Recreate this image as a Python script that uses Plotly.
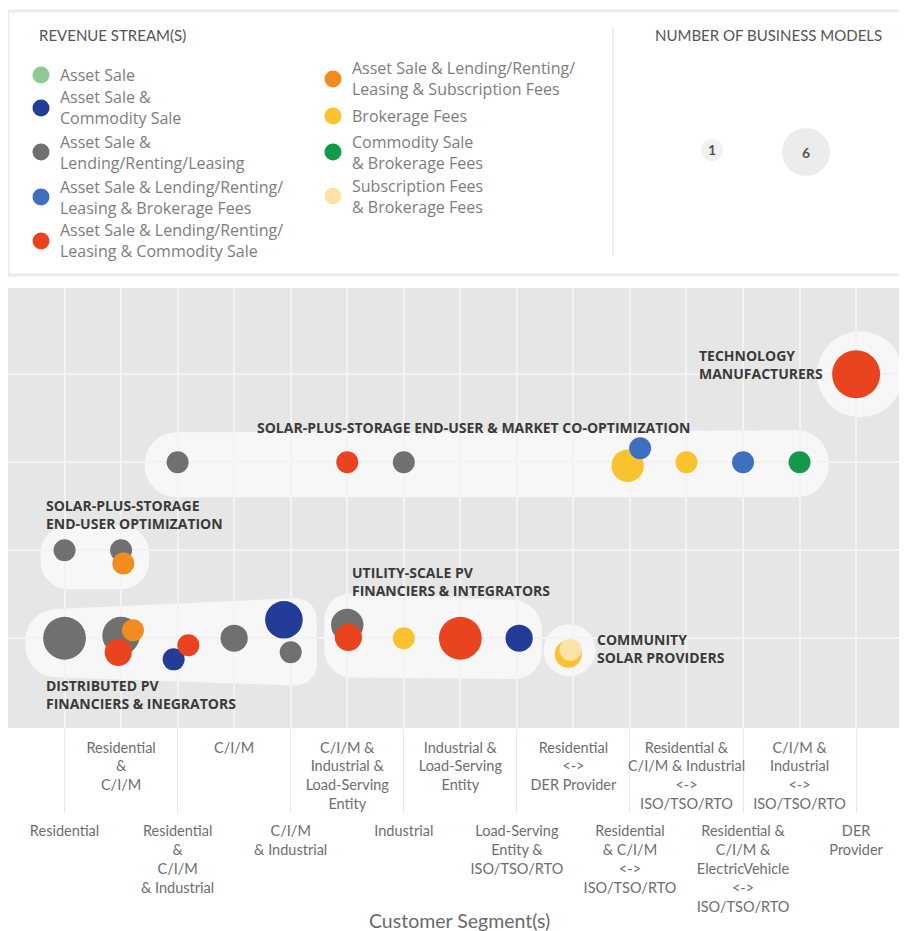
import plotly.graph_objects as go

# ---------------- data ----------------
segments = [
    "Residential",
    "Residential<br>&<br>C/I/M",
    "Residential<br>&<br>C/I/M<br>& Industrial",
    "C/I/M",
    "C/I/M<br>& Industrial",
    "C/I/M &<br>Industrial &<br>Load-Serving<br>Entity",
    "Industrial",
    "Industrial &<br>Load-Serving<br>Entity",
    "Load-Serving<br>Entity &<br>ISO/TSO/RTO",
    "Residential<br>&lt;-&gt;<br>DER Provider",
    "Residential<br>& C/I/M<br>&lt;-&gt;<br>ISO/TSO/RTO",
    "Residential &<br>C/I/M & Industrial<br>&lt;-&gt;<br>ISO/TSO/RTO",
    "Residential &<br>C/I/M &<br>ElectricVehicle<br>&lt;-&gt;<br>ISO/TSO/RTO",
    "C/I/M &<br>Industrial<br>&lt;-&gt;<br>ISO/TSO/RTO",
    "DER<br>Provider",
]
seg_pos = list(range(1, len(segments) + 1))

streams = [
    "Asset Sale",
    "Asset Sale &<br>Commodity Sale",
    "Asset Sale &<br>Lending/Renting/Leasing",
    "Asset Sale & Lending/Renting/<br>Leasing & Brokerage Fees",
    "Asset Sale & Lending/Renting/<br>Leasing & Commodity Sale",
    "Asset Sale & Lending/Renting/<br>Leasing & Subscription Fees",
    "Brokerage Fees",
    "Commodity Sale<br>& Brokerage Fees",
    "Subscription Fees<br>& Brokerage Fees",
]
stream_colors = ["#8fca92", "#223c97", "#707070", "#3e6fc1", "#e9441f",
                 "#f28c20", "#fbc22f", "#12994a", "#fde3a8"]

# business-model clusters; row 1 = bottom
groups = [
    "DISTRIBUTED PV<br>FINANCIERS & INEGRATORS",
    "UTILITY-SCALE PV<br>FINANCIERS & INTEGRATORS",
    "COMMUNITY<br>SOLAR PROVIDERS",
    "SOLAR-PLUS-STORAGE<br>END-USER OPTIMIZATION",
    "SOLAR-PLUS-STORAGE END-USER & MARKET CO-OPTIMIZATION",
    "TECHNOLOGY<br>MANUFACTURERS",
]
group_row = [1, 1, 1, 2, 3, 4]
group_first = [1, 6, 10, 1, 3, 15]
group_last = [5, 9, 10, 2, 14, 15]

# bubbles: segment, row, revenue stream index, number of business models
bub_seg = [1, 2, 2, 2, 3, 3, 4, 5, 5, 6, 6, 7, 8, 9, 10, 10,
           1, 2, 2,
           3, 6, 7, 11, 11, 12, 13, 14,
           15]
bub_row = [1] * 16 + [2] * 3 + [3] * 8 + [4]
bub_stream = [2, 2, 5, 4, 1, 4, 2, 1, 2, 2, 4, 6, 4, 1, 6, 8,
              2, 2, 5,
              2, 4, 2, 6, 3, 6, 3, 7,
              4]
bub_count = [5, 4, 1, 2, 1, 1, 2, 4, 1, 3, 2, 1, 5, 2, 2, 1,
             1, 1, 1,
             1, 1, 1, 3, 1, 1, 1, 1,
             6]
# small jitter so overlapping bubbles within one cell stay visible
bub_jx = [0, 0, 0.21, -0.05, -0.07, 0.19, 0, -0.12, 0, 0, 0.02, 0, 0, 0.04, -0.09, -0.05,
          0, 0, 0.04,
          0, 0, 0, -0.04, 0.18, 0, 0, 0,
          0]
bub_jy = [0, 0.03, 0.09, -0.16, -0.24, -0.08, 0, 0.21, -0.16, 0.15, 0.01, 0, 0, 0, -0.18, -0.13,
          0, 0, -0.15,
          0, 0, 0, -0.04, 0.16, 0, 0, 0,
          0]

size_legend = [1, 6]

# ---------------- layout geometry / styling ----------------
OFF = 8                      # page body margin of the html page
W, H = 907 - OFF, 931 - OFF
PL, PR, PT, PB = 8, 907, 288, 728   # plot area in page pixels
XR = [0, 15.9]
YR = [-0.02, 4.98]
UX = (PR - PL) / (XR[1] - XR[0])
UY = (PB - PT) / (YR[1] - YR[0])

def diam(n):
    return 22 + 5.2 * (n - 1)

def px(x):
    return (x - PL) / (PR - PL)

def py(y):
    return (PB - y) / (PB - PT)

def sx(v):
    return PL + (v - XR[0]) * UX

def sy(v):
    return PB - (v - YR[0]) * UY

def dx(p):
    return XR[0] + (p - PL) / UX

def dy(p):
    return YR[0] + (PB - p) / UY

FONT = "Lato"
BOLD = "Open Sans"

fig = go.Figure()

draw_order = [2, 6, 1, 3, 4, 5, 8, 7, 0]
for s in draw_order:
    idx = [i for i in range(len(bub_seg)) if bub_stream[i] == s]
    if not idx:
        continue
    fig.add_trace(go.Scatter(
        x=[bub_seg[i] + bub_jx[i] for i in idx],
        y=[bub_row[i] + bub_jy[i] for i in idx],
        mode="markers",
        marker=dict(size=[diam(bub_count[i]) for i in idx], color=stream_colors[s],
                    line=dict(width=0), opacity=1),
        name=streams[s].replace("<br>", " "),
        hoverinfo="name",
        showlegend=False,
    ))

fig.add_trace(go.Scatter(x=[seg_pos[1]], y=[1], xaxis="x2", yaxis="y",
                         mode="markers", marker=dict(opacity=0), showlegend=False,
                         hoverinfo="skip"))

shapes = []
annotations = []

def rounded_poly(pts, radii):
    n = len(pts)
    k = 0.5523
    segs = []
    for i in range(n):
        vx, vy = pts[i]
        ax, ay = pts[i - 1]
        bx, by = pts[(i + 1) % n]
        r = radii[i]
        la = ((ax - vx) ** 2 + (ay - vy) ** 2) ** 0.5
        lb = ((bx - vx) ** 2 + (by - vy) ** 2) ** 0.5
        p1 = (vx + (ax - vx) / la * r, vy + (ay - vy) / la * r)
        p2 = (vx + (bx - vx) / lb * r, vy + (by - vy) / lb * r)
        c1 = (p1[0] + (vx - p1[0]) * k, p1[1] + (vy - p1[1]) * k)
        c2 = (p2[0] + (vx - p2[0]) * k, p2[1] + (vy - p2[1]) * k)
        segs.append((p1, c1, c2, p2))
    f = lambda p: f"{dx(p[0]):.4f},{dy(p[1]):.4f}"
    path = "M" + f(segs[0][0])
    for i, (p1, c1, c2, p2) in enumerate(segs):
        if i > 0:
            path += " L" + f(p1)
        path += " C" + f(c1) + " " + f(c2) + " " + f(p2)
    path += " Z"
    return path

BLOB = "#f7f7f7"
blob_style = {
    0: dict(pl=39, pr=26, tl=-28, tr=-41, br=48, bl=38, r=[30, 22, 22, 30]),
    1: dict(pl=23, pr=25, tl=-46, tr=-37, br=41, bl=39, r=[28, 28, 28, 28]),
    3: dict(pl=24, pr=28, tl=-25, tr=-25, br=39, bl=39, r=[28, 28, 28, 28]),
    4: dict(pl=33, pr=29, tl=-30, tr=-32, br=35, bl=35, r=[32, 32, 32, 32]),
}
blob_circle = {2: dict(ox=-4, oy=12, r=26), 5: dict(ox=4, oy=0, r=43)}

for g in range(len(groups)):
    cy = sy(group_row[g])
    if g in blob_style:
        st = blob_style[g]
        xl = sx(group_first[g]) - st["pl"]
        xr = sx(group_last[g]) + st["pr"]
        pts = [(xl, cy + st["tl"]), (xr, cy + st["tr"]), (xr, cy + st["br"]), (xl, cy + st["bl"])]
        shapes.append(dict(type="path", xref="x", yref="y", path=rounded_poly(pts, st["r"]),
                           fillcolor=BLOB, line=dict(width=0), layer="below"))
    else:
        st = blob_circle[g]
        cx = sx(group_first[g]) + st["ox"]
        cc = cy + st["oy"]
        shapes.append(dict(type="circle", xref="x", yref="y",
                           x0=dx(cx - st["r"]), x1=dx(cx + st["r"]),
                           y0=dy(cc + st["r"]), y1=dy(cc - st["r"]),
                           fillcolor=BLOB, line=dict(width=0), layer="below"))

# cluster labels
label_off = {0: (-21, 56), 1: (3, -57), 2: (22, 10), 3: (-21, -36), 4: (77, -35), 5: (-159, -10)}
for g in range(len(groups)):
    ox, oy = label_off[g]
    annotations.append(dict(
        x=group_first[g], y=group_row[g], xref="x", yref="y",
        xshift=ox, yshift=-oy, xanchor="left", yanchor="middle",
        text=groups[g], showarrow=False, align="left",
        font=dict(family=BOLD, size=14, color="#3a3a3a", weight="bold"),
    ))

# ---------- legend box ----------
shapes.append(dict(type="rect", xref="paper", yref="paper",
                   x0=px(8), x1=px(905), y0=py(275), y1=py(11),
                   fillcolor="white", line=dict(color="#ebebeb", width=3), layer="below"))
shapes.append(dict(type="line", xref="paper", yref="paper",
                   x0=px(613), x1=px(613), y0=py(255), y1=py(28),
                   line=dict(color="#eeeeee", width=2)))

for txt, x0 in (("REVENUE STREAM(S)", 37), ("NUMBER OF BUSINESS MODELS", 653)):
    annotations.append(dict(x=px(x0), y=py(35), xref="paper", yref="paper", xanchor="left",
                            yanchor="middle", showarrow=False, text=txt,
                            font=dict(family=FONT, size=15, color="#555555")))

leg_col_x = [41, 333]
leg_rows = [[75, 108, 152, 197, 241], [79, 116, 152, 196]]
k = 0
for c in range(2):
    for yy in leg_rows[c]:
        cx = leg_col_x[c]
        d = 17
        shapes.append(dict(type="circle", xref="paper", yref="paper",
                           x0=px(cx - d / 2), x1=px(cx + d / 2), y0=py(yy + d / 2), y1=py(yy - d / 2),
                           fillcolor=stream_colors[k], line=dict(width=0)))
        annotations.append(dict(x=px(cx + 17), y=py(yy), xref="paper", yref="paper",
                                xanchor="left", yanchor="middle", showarrow=False, align="left",
                                text=streams[k], font=dict(family="Open Sans", size=16, color="#7d7d7d")))
        k += 1

size_x = [712, 806]
size_y = [150, 152]
size_fill = ["#f1f1f1", "#ececec"]
for n, cx, cy, fc in zip(size_legend, size_x, size_y, size_fill):
    d = diam(n)
    shapes.append(dict(type="circle", xref="paper", yref="paper",
                       x0=px(cx - d / 2), x1=px(cx + d / 2), y0=py(cy + d / 2), y1=py(cy - d / 2),
                       fillcolor=fc, line=dict(width=0)))
    annotations.append(dict(x=px(cx), y=py(cy), xref="paper", yref="paper", showarrow=False,
                            xanchor="center", yanchor="middle",
                            text=str(n), font=dict(family=FONT, size=14, color="#555555", weight="bold")))

annotations.append(dict(x=px(460), y=py(920), xref="paper", yref="paper", showarrow=False,
                        xanchor="center", yanchor="middle",
                        text="Customer Segment(s)", font=dict(family=FONT, size=19.5, color="#6a6a6a")))

odd = [i for i in range(len(segments)) if i % 2 == 0]
even = [i for i in range(len(segments)) if i % 2 == 1]
tickfont = dict(family=FONT, size=14.5, color="#6e6e6e")

fig.update_layout(
    width=W, height=H,
    margin=dict(l=PL - OFF, r=(W + OFF) - PR, t=PT - OFF, b=(H + OFF) - PB, pad=0),
    paper_bgcolor="white", plot_bgcolor="#e6e6e6",
    showlegend=False,
    shapes=shapes, annotations=annotations,
    xaxis=dict(range=XR, tickmode="array", tickvals=[seg_pos[i] for i in odd],
               ticktext=[segments[i] for i in odd], ticks="outside", ticklen=84,
               tickcolor="#e8e8e8", tickwidth=1, showgrid=True, gridcolor="#f3f3f3",
               gridwidth=1.5, zeroline=False, showline=False, tickfont=tickfont,
               ticklabelstandoff=6, fixedrange=True),
    xaxis2=dict(range=XR, overlaying="x", anchor="y", side="bottom", tickmode="array",
                tickvals=[seg_pos[i] for i in even], ticktext=[segments[i] for i in even],
                ticks="", showgrid=True, gridcolor="#f3f3f3", gridwidth=1.5,
                zeroline=False, showline=False, tickfont=tickfont,
                ticklabelstandoff=9, fixedrange=True),
    yaxis=dict(range=YR, tickmode="array", tickvals=[1, 2, 3, 4], showticklabels=False,
               ticks="", showgrid=True, gridcolor="#f3f3f3", gridwidth=1.5,
               zeroline=False, showline=False, fixedrange=True),
)

fig.write_html("out.html")
